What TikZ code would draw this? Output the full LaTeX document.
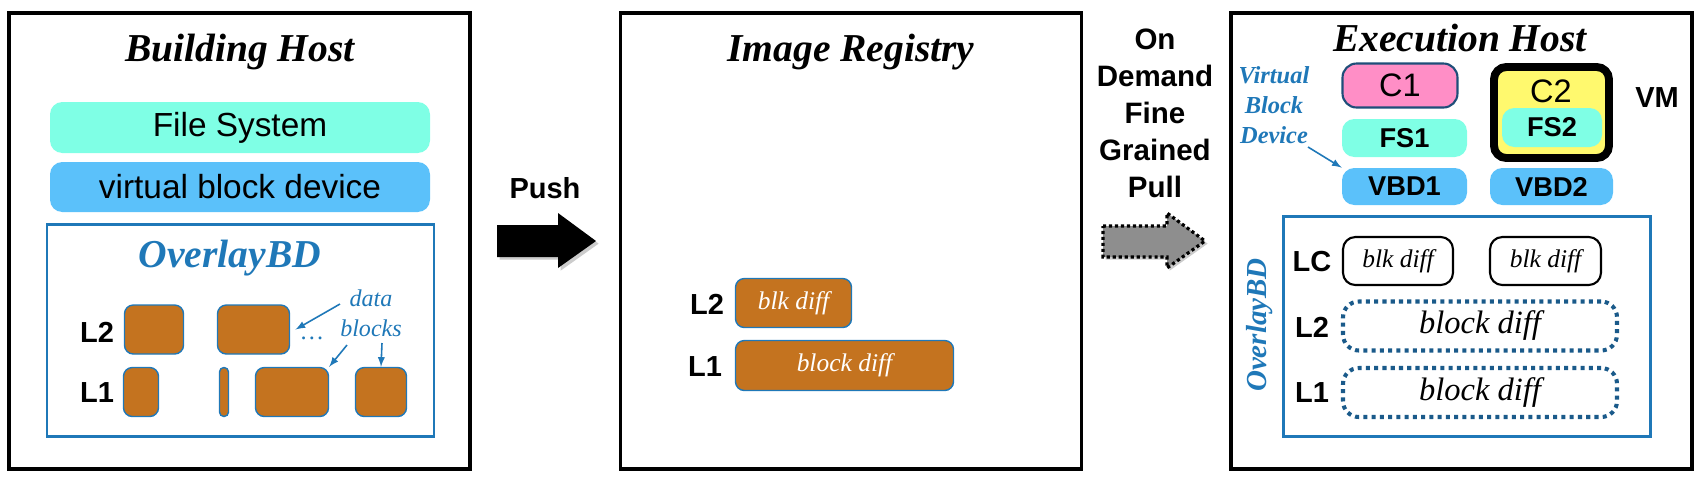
\documentclass[tikz,border=0pt]{standalone}
\usepackage{fontspec}
\setmainfont{Liberation Serif}
\setsansfont{Liberation Sans}
\usetikzlibrary{shadows}
\definecolor{fscolor}{HTML}{7FFFE5}
\definecolor{vbdcolor}{HTML}{5BC1FA}
\definecolor{obdblue}{HTML}{1F78B8}
\definecolor{dotblue}{HTML}{1A5A8A}
\definecolor{blkbrown}{HTML}{C4731F}
\definecolor{cpink}{HTML}{FF8EC6}
\definecolor{cborder}{HTML}{1F4E79}
\definecolor{cyellow}{HTML}{FFF96E}
\definecolor{pullgray}{HTML}{8E8E8E}
\newcommand{\px}{0.02cm}

\begin{document}
\begin{tikzpicture}[x=\px, y=-\px, >=latex,
    host/.style={draw, line width=2.2pt, inner sep=0pt, minimum width=461*\px, minimum height=456*\px},
    title/.style={font=\fontsize{22.5}{26}\selectfont\bfseries\itshape},
    layer/.style={rounded corners=7pt, inner sep=0pt, font=\sffamily\fontsize{19}{22}\selectfont},
    small/.style={rounded corners=7pt, inner sep=0pt, font=\sffamily\bfseries\fontsize{15.5}{17}\selectfont},
    lbl/.style={font=\sffamily\bfseries\fontsize{16.5}{18}\selectfont},
    obd/.style={draw=obdblue, line width=1.7pt, inner sep=0pt},
    blk/.style={draw=obdblue, fill=blkbrown, line width=0.8pt, rounded corners=5pt, inner sep=0pt, minimum height=49*\px, text=white, font=\itshape\fontsize{14.5}{16}\selectfont},
    lcdiff/.style={draw, line width=1.2pt, rounded corners=7pt, inner sep=0pt, minimum height=48*\px, font=\itshape\fontsize{14.5}{16}\selectfont},
    dotdiff/.style={draw=dotblue, line width=2.3pt, dash pattern=on 2.3pt off 2.4pt, rounded corners=9pt, inner sep=0pt, minimum width=274*\px, minimum height=49*\px, font=\itshape\fontsize{18.5}{20}\selectfont},
    note/.style={text=obdblue, align=center, font=\itshape\fontsize{13.7}{17}\selectfont},
    bigarrow/.style={drop shadow={shadow xshift=1.5pt, shadow yshift=-1.5pt, opacity=0.4}}
  ]
    \useasboundingbox (0,0) rectangle (1705,485);

    % Building host
    \node[host] (buildhost) at (239.5,241) {};
    \node[title] (buildtitle) at (240,52) {Building Host};
    \node[layer, fill=fscolor, minimum width=380*\px, minimum height=51*\px] (fs) at (240,127.5) {File System};
    \node[layer, fill=vbdcolor, minimum width=380*\px, minimum height=50*\px] (vbd) at (240,187) {virtual block device};
    \node[obd, minimum width=387*\px, minimum height=212*\px] (obd) at (240.5,330) {};
    \node[title, text=obdblue] (obdtitle) at (230,258) {OverlayBD};
    \node[lbl] (l2) at (97,332) {L2};
    \node[lbl] (l1) at (97,393) {L1};
    \node[blk, minimum width=59*\px] (blk-2-1) at (154,329.5) {};
    \node[blk, minimum width=72*\px] (blk-2-2) at (253.5,329.5) {};
    \node[blk, minimum width=35*\px] (blk-1-1) at (141,392) {};
    \node[blk, minimum width=9*\px, rounded corners=2.5pt] (blk-1-2) at (224,392) {};
    \node[blk, minimum width=73*\px] (blk-1-3) at (292,392) {};
    \node[blk, minimum width=51*\px] (blk-1-4) at (381,392) {};
    \node[text=obdblue, font=\fontsize{14}{16}\selectfont] (dots) at (312,338) {\dots};
    \node[note] (datanote) at (371,313) {data\\blocks};
    \coordinate (data-a) at (340,304);
    \coordinate (data-b) at (347,345);
    \coordinate (data-c) at (382,343);
    \draw[->, obdblue, line width=0.9pt] (data-a) -- ([xshift=3pt]blk-2-2.east);
    \draw[->, obdblue, line width=0.9pt] (data-b) -- (blk-1-3.north east);
    \draw[->, obdblue, line width=0.9pt] (data-c) -- (blk-1-4.north);

    % Push
    \node[lbl] (push) at (545,188) {Push};
    \fill[black, bigarrow] (497,225) -- (558,225) -- (558,213) -- (596,241) -- (558,268) -- (558,257) -- (497,257) -- cycle;

    % Image registry
    \node[host] (registry) at (851,241) {};
    \node[title] (regtitle) at (851,52) {Image Registry};
    \node[lbl] (reg-l2) at (707,304) {L2};
    \node[lbl] (reg-l1) at (705,367) {L1};
    \node[blk, minimum width=116*\px] (reg-blk-2) at (793.5,303) {blk diff};
    \node[blk, minimum width=218*\px, minimum height=50*\px] (reg-blk-1) at (844.5,365.5) {block diff};

    % On demand pull
    \node[lbl, align=center, font=\sffamily\bfseries\fontsize{16.8}{21}\selectfont] (pull) at (1155,113.5) {On\\Demand\\Fine\\Grained\\Pull};
    \filldraw[fill=pullgray, draw=black, line width=1.8pt, dash pattern=on 1.8pt off 1.6pt, bigarrow] (1103,226) -- (1167,226) -- (1167,213) -- (1205,241) -- (1167,268) -- (1167,257) -- (1103,257) -- cycle;

    % Execution host
    \node[host] (exechost) at (1461.5,241) {};
    \node[title] (exectitle) at (1460,38) {Execution Host};
    \node[note, font=\bfseries\itshape\fontsize{13.9}{17}\selectfont] (vbdnote) at (1274,105) {Virtual\\Block\\Device};
    \coordinate (vbd-note) at (1308,147);
    \node[layer, draw=cborder, line width=1.2pt, fill=cpink, rounded corners=8pt, minimum width=115*\px, minimum height=44*\px, font=\sffamily\fontsize{18.5}{20}\selectfont] (c1) at (1400,85.5) {C1};
    \node[small, fill=fscolor, minimum width=125*\px, minimum height=38*\px] (fs1) at (1404.5,138) {FS1};
    \node[small, fill=vbdcolor, minimum width=125*\px, minimum height=37*\px] (vbd1) at (1404.5,186.5) {VBD1};
    \draw[->, obdblue, line width=0.9pt] (vbd-note) -- (vbd1.north west);
    \node[draw, line width=4.5pt, fill=cyellow, rounded corners=7pt, minimum width=115*\px, minimum height=91*\px] (vm) at (1551.5,112.5) {};
    \node[font=\sffamily\fontsize{18.5}{20}\selectfont] (c2) at (1551,91) {C2};
    \node[small, fill=fscolor, minimum width=100*\px, minimum height=39*\px] (fs2) at (1552,127.5) {FS2};
    \node[lbl] (vmlbl) at (1657,98) {VM};
    \node[small, fill=vbdcolor, minimum width=123*\px, minimum height=37*\px] (vbd2) at (1551.5,186.5) {VBD2};
    \node[obd, minimum width=367*\px, minimum height=220*\px] (exec-obd) at (1466.5,326) {};
    \node[rotate=90, text=obdblue, font=\fontsize{16.5}{18}\selectfont\bfseries\itshape] (exec-obdtitle) at (1260,325) {OverlayBD};
    \node[lbl] (exec-lc) at (1312,262) {LC};
    \node[lbl] (exec-l2) at (1312,327) {L2};
    \node[lbl] (exec-l1) at (1312,393) {L1};
    \node[lcdiff, minimum width=110*\px] (lc-1) at (1398,261) {blk diff};
    \node[lcdiff, minimum width=111*\px] (lc-2) at (1545.5,261) {blk diff};
    \node[dotdiff] (exec-l2-diff) at (1480,326) {block diff};
    \node[dotdiff] (exec-l1-diff) at (1480,392.5) {block diff};

\end{tikzpicture}
\end{document}
